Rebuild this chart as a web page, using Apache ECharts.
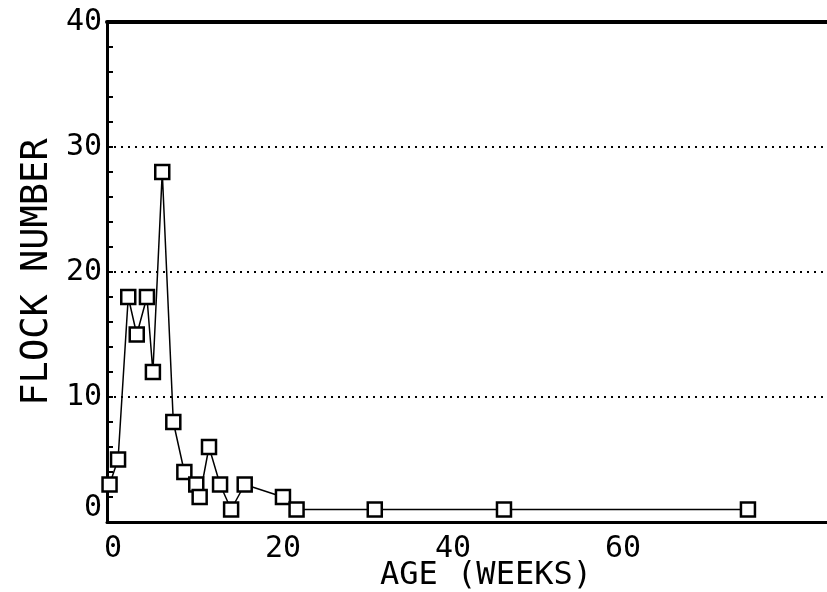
<!DOCTYPE html>
<html>
<head>
<meta charset="utf-8">
<script src="https://cdn.jsdelivr.net/npm/echarts@6/dist/echarts.min.js"></script>
<style>
  html, body { margin: 0; padding: 0; background: #fff; }
  #chart { width: 827px; height: 592px; }
</style>
</head>
<body>
<div id="chart"></div>
<script>
// age in weeks vs number of flocks
const ages = [-0.4, 0.6, 1.8, 2.8, 4.0, 4.7, 5.8, 7.1, 8.4, 9.8, 10.2, 11.3, 12.6, 13.9, 15.5, 20.0, 21.6, 30.8, 46.0, 74.7]
const flocks = [3, 5, 18, 15, 18, 12, 28, 8, 4, 3, 2, 6, 3, 1, 3, 2, 1, 1, 1, 1]
const xTickLabels = [0, 20, 40, 60]
const yTickLabels = [0, 10, 20, 30, 40]

const font = 'DejaVu Sans Mono'
const chart = echarts.init(document.getElementById('chart'))

const option = {
  backgroundColor: '#fff',
  animation: false,
  grid: { left: 107, right: 0, top: 22, bottom: 70, outerBoundsMode: 'none' },
  xAxis: [
    {
      type: 'value',
      min: -0.7,
      max: 84,
      name: 'AGE (WEEKS)',
      nameLocation: 'middle',
      nameGap: 38,
      nameMoveOverlap: false,
      nameTextStyle: { fontFamily: font, fontSize: 32, color: '#000', padding: [0, 0, 0, 38] },
      axisLine: { show: true, onZero: false, lineStyle: { color: '#000', width: 3 } },
      axisTick: { show: false },
      splitLine: { show: false },
      axisLabel: {
        customValues: xTickLabels,
        fontFamily: font,
        fontSize: 30,
        color: '#000',
        margin: 12
      }
    },
    {
      type: 'value',
      position: 'top',
      min: -0.7,
      max: 84,
      axisLine: { show: true, onZero: false, lineStyle: { color: '#000', width: 4 } },
      axisTick: { show: false },
      axisLabel: { show: false },
      splitLine: { show: false }
    }
  ],
  yAxis: {
    type: 'value',
    min: 0,
    max: 40,
    interval: 10,
    name: 'FLOCK NUMBER',
    nameLocation: 'middle',
    nameGap: 51,
    nameMoveOverlap: false,
    nameTextStyle: { fontFamily: font, fontSize: 37, color: '#000' },
    axisLine: { show: true, onZero: false, lineStyle: { color: '#000', width: 3 } },
    axisTick: { show: true, inside: true, length: 6, lineStyle: { color: '#000', width: 2 } },
    minorTick: { show: true, splitNumber: 5, length: 6, lineStyle: { color: '#000', width: 2 } },
    axisLabel: {
      formatter: v => (v === 0 ? '{z|0}' : yTickLabels.includes(v) ? String(v) : ''),
      fontFamily: font,
      fontSize: 30,
      color: '#000',
      margin: 5,
      rich: { z: { fontFamily: font, fontSize: 30, color: '#000', padding: [0, 0, 28, 0] } }
    },
    splitLine: { show: true, lineStyle: { color: '#000', width: 2, type: [2, 5] } }
  },
  series: [
    {
      type: 'line',
      data: ages.map((a, i) => [a, flocks[i]]),
      symbol: 'rect',
      symbolSize: 14,
      showAllSymbol: true,
      lineStyle: { color: '#000', width: 1.5 },
      itemStyle: { color: '#fff', borderColor: '#000', borderWidth: 2.5 },
      z: 5
    }
  ]
}

chart.setOption(option)
window.addEventListener('resize', () => chart.resize())
</script>
</body>
</html>
